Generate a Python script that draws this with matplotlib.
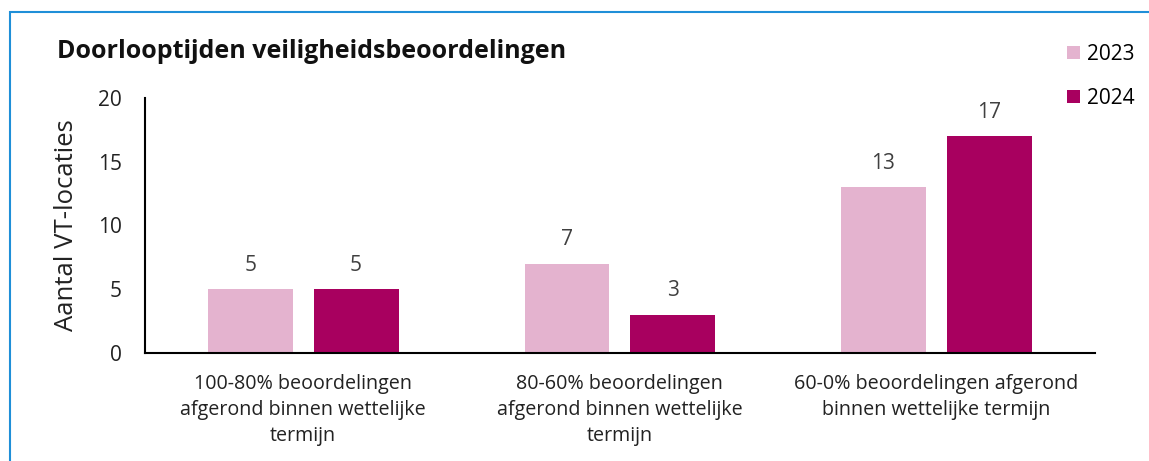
import numpy as np
import matplotlib.pyplot as plt
from matplotlib.patches import Rectangle

plt.rcParams['font.family'] = ['Open Sans', 'DejaVu Sans']

categories = [
    "100-80% beoordelingen\nafgerond binnen wettelijke\ntermijn",
    "80-60% beoordelingen\nafgerond binnen wettelijke\ntermijn",
    "60-0% beoordelingen afgerond\nbinnen wettelijke termijn",
]
years = ["2023", "2024"]
values_2023 = [5, 7, 13]
values_2024 = [5, 3, 17]
colors = ["#e4b3cf", "#a8005f"]
y_ticks = [0, 5, 10, 15, 20]

fig = plt.figure(figsize=(11.49, 4.61), dpi=100)
ax = fig.add_axes([0.1262, 0.2343, 0.8264, 0.5531])

# light blue frame around the chart (top and left edges visible)
fig.patches.append(Rectangle((10 / 1149, -0.1), 1.2, 1 - 12 / 461 + 0.1,
                             transform=fig.transFigure, fill=False,
                             edgecolor="#1f8fd8", linewidth=1.5))

x = np.arange(len(categories))
width = 0.268
offset = 0.167
for vals, yr, col, sgn in [(values_2023, years[0], colors[0], -1),
                           (values_2024, years[1], colors[1], 1)]:
    bars = ax.bar(x + sgn * offset, vals, width, color=col, label=yr)
    for b, v in zip(bars, vals):
        ax.text(b.get_x() + b.get_width() / 2, v + 1.88, str(v),
                ha="center", va="center", fontsize=15, color="#404040")

ax.set_xlim(-0.5, 2.5)
ax.set_ylim(0, 20)
ax.set_yticks(y_ticks)
ax.set_xticks(x)
ax.set_xticklabels(categories, fontsize=14.2, color="#222222", linespacing=1.42)
ax.tick_params(axis="both", length=0)
ax.tick_params(axis="y", pad=16.5, labelsize=15, labelcolor="#222222")
ax.tick_params(axis="x", pad=15)
for s in ["top", "right"]:
    ax.spines[s].set_visible(False)
ax.spines["left"].set_linewidth(1.5)
ax.spines["bottom"].set_linewidth(1.5)
ax.set_ylabel("Aantal VT-locaties", fontsize=18.5, color="#222222", labelpad=14)

fig.text(57 / 1149, 1 - 52 / 461, "Doorlooptijden veiligheidsbeoordelingen",
         fontsize=18, fontweight="bold", va="center", ha="left", color="#111111")

leg = fig.legend(loc="upper left", bbox_to_anchor=(1048 / 1149, 1 - 25 / 461),
                 frameon=False, fontsize=15, handlelength=0.62, handleheight=0.62,
                 handletextpad=0.35, labelspacing=1.1)

fig.savefig("out.png", dpi=100)
